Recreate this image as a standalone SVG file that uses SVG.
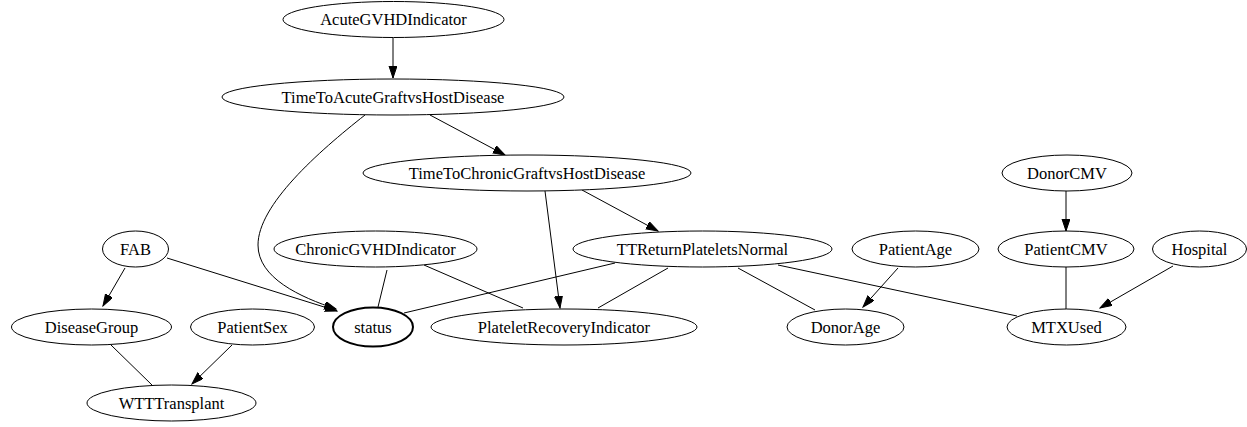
<svg xmlns="http://www.w3.org/2000/svg" width="1247" height="427" viewBox="0 0 1247 427">
<style>
.n ellipse{fill:#fff;stroke:#000;stroke-width:1}
.n text{fill:#000;text-anchor:middle}
#edges path{fill:none;stroke:#000;stroke-width:1}
.a{marker-end:url(#ah)}
</style>
<defs>
<marker id="ah" markerUnits="userSpaceOnUse" markerWidth="13" markerHeight="9" refX="12" refY="4" orient="auto">
<path d="M0,0 L12,4 L0,8 z" fill="#000" stroke="#000" stroke-width="1"/>
</marker>
</defs>
<rect width="1247" height="427" fill="#fff"/>
<g id="edges">
<path class="a" d="M393,38 L393,78"/>
<path class="a" d="M430,115 L505,155"/>
<path class="a" d="M365,115 C318,152 258,205 258,245 C258,278 300,297 336,309"/>
<path class="a" d="M582,190 L658,231"/>
<path class="a" d="M545,191 L560,308"/>
<path class="a" d="M125,268 L103,306"/>
<path class="a" d="M167,258 L337,311"/>
<path d="M387,270 L378,307"/>
<path d="M424,265 L523,308"/>
<path d="M404,313 L615,263"/>
<path d="M668,268 L598,308"/>
<path d="M738,268 L815,310"/>
<path d="M778,265 L1017,316"/>
<path class="a" d="M898,268 L863,307"/>
<path class="a" d="M1066,191 L1066,231"/>
<path d="M1066,267 L1066,309"/>
<path class="a" d="M1173,266 L1100,308"/>
<path d="M111,345 L152,385"/>
<path class="a" d="M232,345 L192,384"/>
</g>
<g font-family="Liberation Serif, Times New Roman, serif" font-size="16.5">
<g id="AcuteGVHDIndicator" class="n"><ellipse cx="393.5" cy="19.5" rx="110.5" ry="18"/><text x="393.5" y="25">AcuteGVHDIndicator</text></g>
<g id="TimeToAcuteGraftvsHostDisease" class="n"><ellipse cx="393" cy="97" rx="171" ry="18"/><text x="393" y="102.5">TimeToAcuteGraftvsHostDisease</text></g>
<g id="TimeToChronicGraftvsHostDisease" class="n"><ellipse cx="527" cy="173" rx="164" ry="18"/><text x="527" y="178.5">TimeToChronicGraftvsHostDisease</text></g>
<g id="FAB" class="n"><ellipse cx="135.5" cy="249" rx="33" ry="18"/><text x="135.5" y="254.5">FAB</text></g>
<g id="ChronicGVHDIndicator" class="n"><ellipse cx="375.5" cy="249" rx="101.5" ry="18"/><text x="375.5" y="254.5">ChronicGVHDIndicator</text></g>
<g id="TTReturnPlateletsNormal" class="n"><ellipse cx="702.5" cy="249" rx="129.5" ry="18"/><text x="702.5" y="254.5">TTReturnPlateletsNormal</text></g>
<g id="PatientAge" class="n"><ellipse cx="915.5" cy="249" rx="63.5" ry="18"/><text x="915.5" y="254.5">PatientAge</text></g>
<g id="DonorCMV" class="n"><ellipse cx="1067" cy="173" rx="65" ry="18"/><text x="1067" y="178.5">DonorCMV</text></g>
<g id="PatientCMV" class="n"><ellipse cx="1066" cy="249" rx="68" ry="18"/><text x="1066" y="254.5">PatientCMV</text></g>
<g id="Hospital" class="n"><ellipse cx="1199.5" cy="249" rx="47" ry="18"/><text x="1199.5" y="254.5">Hospital</text></g>
<g id="DiseaseGroup" class="n"><ellipse cx="91.5" cy="327" rx="80" ry="18"/><text x="91.5" y="332.5">DiseaseGroup</text></g>
<g id="PatientSex" class="n"><ellipse cx="252.5" cy="327" rx="62" ry="18"/><text x="252.5" y="332.5">PatientSex</text></g>
<g id="status" class="n"><ellipse cx="373" cy="327" rx="40" ry="19.5" stroke-width="2" style="stroke-width:2"/><text x="373" y="332.5">status</text></g>
<g id="PlateletRecoveryIndicator" class="n"><ellipse cx="564" cy="327" rx="133" ry="18"/><text x="564" y="332.5">PlateletRecoveryIndicator</text></g>
<g id="DonorAge" class="n"><ellipse cx="845.5" cy="327" rx="58.5" ry="18"/><text x="845.5" y="332.5">DonorAge</text></g>
<g id="MTXUsed" class="n"><ellipse cx="1066.5" cy="327" rx="59.5" ry="18"/><text x="1066.5" y="332.5">MTXUsed</text></g>
<g id="WTTTransplant" class="n"><ellipse cx="171.5" cy="403" rx="84.5" ry="18"/><text x="171.5" y="408.5">WTTTransplant</text></g>
</g>
</svg>
